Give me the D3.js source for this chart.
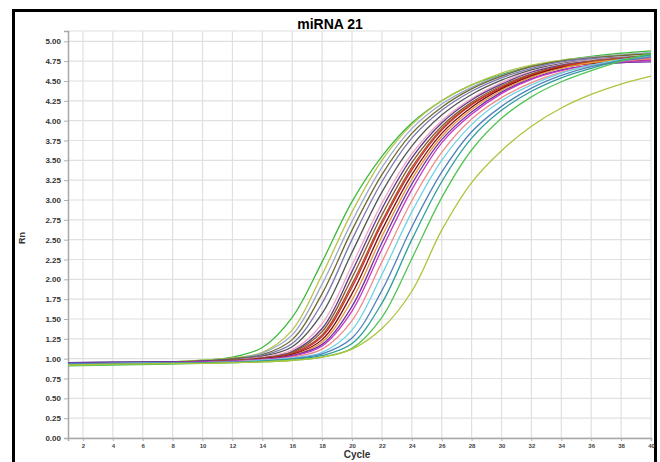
<!DOCTYPE html>
<html>
<head>
<meta charset="utf-8">
<script src="https://cdn.jsdelivr.net/npm/d3@7"></script>
<style>
  body { margin: 0; background: #fff; }
  text { font-family: "Liberation Sans", Arial, sans-serif; }
</style>
</head>
<body>
<script>

var w = 660;
var h = 462;

var cycles = [1, 4, 8, 10, 12, 14, 16, 18, 20, 22, 24, 26, 28, 30, 32, 34, 36, 38, 40];

// one array of Rn values per well, earliest curve first
var wellA = [0.93, 0.94, 0.96, 0.98, 1.02, 1.14, 1.52, 2.22, 2.98, 3.55, 3.97, 4.25, 4.45, 4.58, 4.69, 4.76, 4.81, 4.85, 4.88];
var wellB = [0.94, 0.95, 0.96, 0.98, 1.01, 1.08, 1.36, 2.06, 2.85, 3.50, 3.95, 4.25, 4.45, 4.60, 4.70, 4.76, 4.80, 4.83, 4.85];
var wellC = [0.93, 0.94, 0.95, 0.97, 1.00, 1.07, 1.30, 1.94, 2.73, 3.41, 3.90, 4.21, 4.42, 4.57, 4.68, 4.75, 4.80, 4.83, 4.86];
var wellD = [0.95, 0.95, 0.96, 0.97, 1.00, 1.05, 1.24, 1.82, 2.62, 3.32, 3.84, 4.17, 4.40, 4.56, 4.68, 4.75, 4.79, 4.82, 4.84];
var wellE = [0.93, 0.94, 0.95, 0.97, 0.99, 1.04, 1.19, 1.70, 2.50, 3.23, 3.78, 4.13, 4.37, 4.54, 4.66, 4.74, 4.78, 4.80, 4.82];
var wellF = [0.94, 0.95, 0.96, 0.97, 0.99, 1.03, 1.15, 1.57, 2.34, 3.10, 3.68, 4.07, 4.33, 4.51, 4.64, 4.72, 4.76, 4.79, 4.80];
var wellG = [0.92, 0.93, 0.95, 0.96, 0.98, 1.02, 1.11, 1.44, 2.18, 2.96, 3.58, 4.00, 4.28, 4.48, 4.62, 4.71, 4.76, 4.79, 4.80];
var wellH = [0.95, 0.96, 0.96, 0.97, 0.98, 1.01, 1.09, 1.38, 2.10, 2.89, 3.53, 3.97, 4.26, 4.46, 4.61, 4.70, 4.75, 4.78, 4.80];
var wellI = [0.93, 0.94, 0.95, 0.96, 0.98, 1.01, 1.08, 1.34, 2.02, 2.81, 3.47, 3.93, 4.23, 4.44, 4.59, 4.69, 4.74, 4.77, 4.78];
var wellJ = [0.94, 0.95, 0.95, 0.96, 0.98, 1.00, 1.07, 1.30, 1.94, 2.73, 3.41, 3.90, 4.21, 4.42, 4.58, 4.68, 4.75, 4.79, 4.82];
var wellK = [0.93, 0.94, 0.95, 0.96, 0.97, 1.00, 1.06, 1.28, 1.90, 2.70, 3.38, 3.88, 4.20, 4.42, 4.57, 4.68, 4.73, 4.76, 4.78];
var wellL = [0.94, 0.95, 0.95, 0.96, 0.97, 1.00, 1.05, 1.24, 1.82, 2.62, 3.32, 3.84, 4.17, 4.40, 4.56, 4.67, 4.72, 4.75, 4.76];
var wellM = [0.92, 0.93, 0.94, 0.95, 0.97, 0.99, 1.04, 1.21, 1.74, 2.54, 3.26, 3.80, 4.14, 4.38, 4.55, 4.66, 4.73, 4.77, 4.80];
var wellN = [0.95, 0.95, 0.96, 0.96, 0.97, 0.99, 1.04, 1.18, 1.66, 2.46, 3.20, 3.76, 4.11, 4.36, 4.53, 4.64, 4.70, 4.73, 4.74];
var wellO = [0.93, 0.94, 0.95, 0.96, 0.97, 0.99, 1.03, 1.16, 1.60, 2.38, 3.13, 3.72, 4.08, 4.34, 4.52, 4.63, 4.70, 4.74, 4.76];
var wellP = [0.92, 0.93, 0.94, 0.95, 0.96, 0.98, 1.02, 1.12, 1.48, 2.22, 2.99, 3.60, 4.02, 4.29, 4.48, 4.61, 4.69, 4.75, 4.78];
var wellQ = [0.93, 0.94, 0.95, 0.95, 0.96, 0.98, 1.01, 1.08, 1.36, 2.06, 2.85, 3.50, 3.95, 4.25, 4.45, 4.60, 4.70, 4.77, 4.82];
var wellR = [0.94, 0.94, 0.95, 0.95, 0.96, 0.97, 1.00, 1.06, 1.26, 1.86, 2.66, 3.35, 3.86, 4.18, 4.41, 4.57, 4.68, 4.75, 4.80];
var wellS = [0.92, 0.93, 0.94, 0.95, 0.95, 0.97, 0.99, 1.04, 1.19, 1.70, 2.50, 3.23, 3.78, 4.13, 4.37, 4.54, 4.66, 4.76, 4.83];
var wellT = [0.91, 0.92, 0.93, 0.94, 0.95, 0.96, 0.98, 1.02, 1.13, 1.52, 2.26, 3.03, 3.63, 4.03, 4.30, 4.49, 4.63, 4.75, 4.85];
var wellU = [0.92, 0.93, 0.94, 0.94, 0.95, 0.96, 0.98, 1.02, 1.12, 1.38, 1.85, 2.62, 3.22, 3.62, 3.93, 4.16, 4.33, 4.46, 4.56];

var wells = [wellA, wellB, wellC, wellD, wellE, wellF, wellG, wellH, wellI, wellJ, wellK,
             wellL, wellM, wellN, wellO, wellP, wellQ, wellR, wellS, wellT, wellU];

var wellColors = ["#3cb83c", "#b5c24a", "#9aa8cc", "#6e6a2c", "#7a78b2", "#555555", "#f2a6c4",
                  "#5b3c8c", "#8b5a2b", "#a0522d", "#d42a2a", "#7d1010", "#e8963a", "#7232a4",
                  "#c23ac2", "#f08a8a", "#6fd2e6", "#4f81bd", "#2e9e9a", "#52c452", "#aec43c"];

// tick labels
var xTicks = d3.range(2, 41, 2);
var yTicks = d3.range(0, 5.01, 0.25);

var title = "miRNA 21";

var margin = { left: 68, right: 9, top: 31, bottom: 24 };

var svg = d3.select("body").append("svg").attr("width", w).attr("height", h);

var x = d3.scaleLinear()
    .domain([1, 40])
    .range([margin.left, w - margin.right]);

var y = d3.scaleLinear()
    .domain([0, 5.13])
    .range([h - margin.bottom, margin.top]);

// outer black frame
svg.append("rect")
    .attr("x", 13.5)
    .attr("y", 10.5)
    .attr("width", 642)
    .attr("height", 470)
    .attr("fill", "none")
    .attr("stroke", "#000")
    .attr("stroke-width", 3);

// grid
var grid = svg.append("g").attr("class", "grid");

grid.selectAll(".vgrid")
    .data(xTicks)
    .enter().append("line")
    .attr("x1", function(d) { return x(d); })
    .attr("x2", function(d) { return x(d); })
    .attr("y1", y(0))
    .attr("y2", y(5.13))
    .attr("stroke", "#e0e0e0")
    .attr("stroke-width", 1.2);

grid.selectAll(".hgrid")
    .data(yTicks.concat([5.13]))
    .enter().append("line")
    .attr("x1", x(1))
    .attr("x2", x(40))
    .attr("y1", function(d) { return y(d); })
    .attr("y2", function(d) { return y(d); })
    .attr("stroke", "#e0e0e0")
    .attr("stroke-width", 1.2);

// axes
var yAxis = svg.append("g")
    .attr("transform", "translate(" + margin.left + ",0)")
    .call(d3.axisLeft(y)
      .tickValues(yTicks)
      .tickSize(4)
      .tickPadding(3)
      .tickFormat(d3.format(".2f")));

var xAxis = svg.append("g")
    .attr("transform", "translate(0," + y(0) + ")")
    .call(d3.axisBottom(x)
      .tickValues(xTicks)
      .tickSize(3)
      .tickPadding(3));

yAxis.select(".domain").attr("stroke", "#a8a8a8").attr("stroke-width", 1.5);
xAxis.select(".domain").attr("stroke", "#a8a8a8").attr("stroke-width", 1.5);
svg.selectAll(".tick line").attr("stroke", "#b0b0b0");

yAxis.selectAll("text")
    .attr("fill", "#333")
    .style("font-size", "8px")
    .style("font-weight", "bold");

xAxis.selectAll("text")
    .attr("fill", "#444")
    .style("font-size", "6px")
    .style("font-weight", "bold");

// the curves
var line = d3.line()
    .x(function(d, i) { return x(cycles[i]); })
    .y(function(d) { return y(d); })
    .curve(d3.curveCatmullRom.alpha(0.5));

svg.append("g")
    .attr("class", "curves")
    .selectAll("path")
    .data(wells)
    .enter().append("path")
    .attr("d", line)
    .attr("fill", "none")
    .attr("stroke", function(d, i) { return wellColors[i]; })
    .attr("stroke-width", 1.3);

// title and axis names
svg.append("text")
    .attr("x", 330)
    .attr("y", 29)
    .attr("text-anchor", "middle")
    .style("font-size", "14px")
    .style("font-weight", "bold")
    .text(title);

svg.append("text")
    .attr("x", 357)
    .attr("y", 458)
    .attr("text-anchor", "middle")
    .style("font-size", "10px")
    .style("font-weight", "bold")
    .attr("fill", "#333")
    .text("Cycle");

svg.append("text")
    .attr("transform", "translate(25,238) rotate(-90)")
    .attr("text-anchor", "middle")
    .style("font-size", "9px")
    .style("font-weight", "bold")
    .attr("fill", "#333")
    .text("Rn");

</script>
</body>
</html>
